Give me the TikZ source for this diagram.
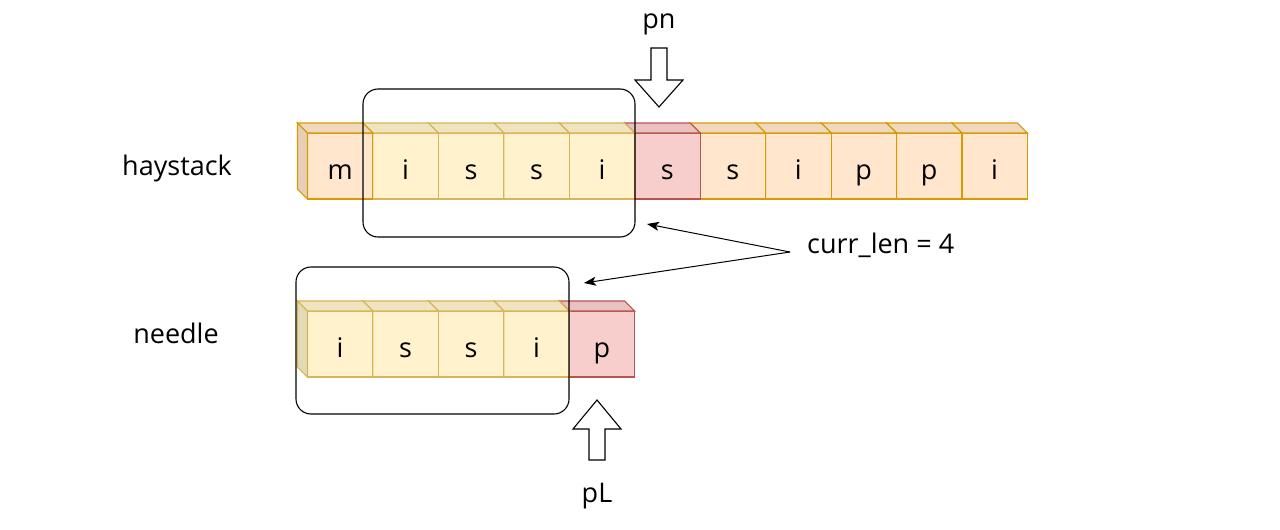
\documentclass[tikz,border=0pt]{standalone}
\usepackage{fontspec}
\setmainfont{Open Sans}
\usetikzlibrary{arrows.meta}
\definecolor{orF}{HTML}{FFE6CC}\definecolor{orD}{HTML}{D79B00}
\definecolor{yeF}{HTML}{FFF2CC}\definecolor{yeD}{HTML}{D6B656}
\definecolor{reF}{HTML}{F8CECC}\definecolor{reD}{HTML}{B85450}
\newcommand{\drawcell}[6]{%
  \begin{scope}[shift={(#1,#2)}]
    \filldraw[fill=#3,draw=#4,cellline] (10,10) rectangle (75.45,76);
    \filldraw[fill=#3!94!black,draw=#4,cellline] (0,0) -- (65.45,0) -- (75.45,10) -- (10,10) -- cycle;
    \filldraw[fill=#3!90!black,draw=#4,cellline] (0,0) -- (10,10) -- (10,76) -- (0,66) -- cycle;
    \node[lbl,anchor=base] (#6) at (42.7,56) {#5};
  \end{scope}}
\begin{document}
\begin{tikzpicture}[x=1pt,y=-1pt,
  cellline/.style={line width=1.1pt,line join=miter},
  lbl/.style={font=\fontsize{27}{30}\selectfont,inner sep=0pt},
  txt/.style={font=\fontsize{27}{30}\selectfont,inner sep=0pt,anchor=base},
  win/.style={draw=black,line width=1.1pt,rounded corners=15pt,inner sep=0pt,fill=none},
  blk/.style={draw=black,fill=white,line width=1.1pt,line join=miter},
  ptr/.style={-{Stealth[length=12pt,width=9pt,inset=3pt]},line width=1pt}]
\useasboundingbox (0,0) rectangle (1280,530);
% haystack cells (right to left)
\drawcell{951.95}{123}{orF}{orD}{i}{h10}
\drawcell{886.5}{123}{orF}{orD}{p}{h9}
\drawcell{821.05}{123}{orF}{orD}{p}{h8}
\drawcell{755.6}{123}{orF}{orD}{i}{h7}
\drawcell{690.15}{123}{orF}{orD}{s}{h6}
\drawcell{624.7}{123}{reF}{reD}{s}{h5}
\drawcell{559.25}{123}{yeF}{yeD}{i}{h4}
\drawcell{493.8}{123}{yeF}{yeD}{s}{h3}
\drawcell{428.35}{123}{yeF}{yeD}{s}{h2}
\drawcell{362.9}{123}{yeF}{yeD}{i}{h1}
\drawcell{297.45}{123}{orF}{orD}{m}{h0}
% needle cells
\drawcell{559.25}{301}{reF}{reD}{p}{n4}
\drawcell{493.8}{301}{yeF}{yeD}{i}{n3}
\drawcell{428.35}{301}{yeF}{yeD}{s}{n2}
\drawcell{362.9}{301}{yeF}{yeD}{s}{n1}
\drawcell{297.45}{301}{yeF}{yeD}{i}{n0}
% windows
\node[win,minimum width=272pt,minimum height=148pt] (winH) at (499,163) {};
\node[win,minimum width=273pt,minimum height=147pt] (winN) at (432.5,340.5) {};
% labels
\node[txt] (hay) at (177,175) {haystack};
\node[txt] (ndl) at (176,343) {needle};
\node[txt] (pn) at (659,28) {pn};
\node[txt] (pL) at (597,502) {pL};
\node[txt,anchor=base west] (cl) at (807,253) {curr\_len = 4};
% block arrows
\draw[blk] (651,48) -- (667,48) -- (667,80) -- (683,80) -- (659,107) -- (635,80) -- (651,80) -- cycle;
\draw[blk] (589,460) -- (605,460) -- (605,429) -- (621,429) -- (597,400) -- (573,429) -- (589,429) -- cycle;
% pointers
\coordinate (src) at (790,252);
\coordinate (tH) at (647,224);
\coordinate (tN) at (584,283);
\draw[ptr] (src) -- (tH);
\draw[ptr] (src) -- (tN);
\end{tikzpicture}
\end{document}
